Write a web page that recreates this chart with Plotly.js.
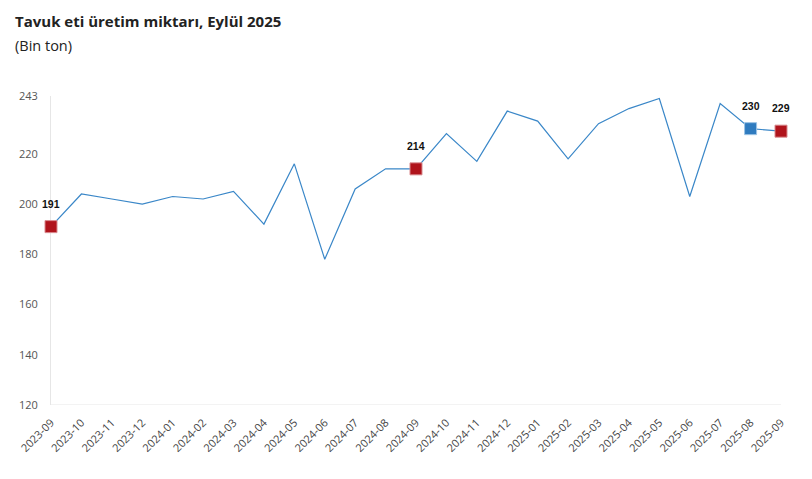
<!DOCTYPE html>
<html>
<head>
<meta charset="utf-8">
<script src="https://cdn.plot.ly/plotly-3.0.1.min.js"></script>
<style>html,body{margin:0;padding:0;background:#fff}#chart{width:812px;height:479px}</style>
</head>
<body>
<div id="chart"></div>
<script>
// Data
const months = ['2023-09','2023-10','2023-11','2023-12','2024-01','2024-02','2024-03','2024-04','2024-05','2024-06','2024-07','2024-08','2024-09','2024-10','2024-11','2024-12','2025-01','2025-02','2025-03','2025-04','2025-05','2025-06','2025-07','2025-08','2025-09'];
const production = [191, 204, 202, 200, 203, 202, 205, 192, 216, 178, 206, 214, 214, 228, 217, 237, 233, 218, 232, 238, 242, 203, 240, 230, 229];
const redMonths = ['2023-09','2024-09','2025-09'];
const blueMonths = ['2025-08'];
const yTicks = [120, 140, 160, 180, 200, 220, 243];
const titleText = 'Tavuk eti üretim miktarı, Eylül 2025';
const subtitleText = '(Bin ton)';

const valueOf = m => production[months.indexOf(m)];

const lineTrace = {
  x: months, y: production, type: 'scatter', mode: 'lines',
  line: {color: '#3a87c8', width: 1.2}, hoverinfo: 'skip', cliponaxis: false
};
const redTrace = {
  x: redMonths, y: redMonths.map(valueOf), type: 'scatter', mode: 'markers',
  marker: {symbol: 'square', size: 12, color: '#b0141c', line: {width: 1, color: '#d88a8e'}},
  cliponaxis: false
};
const blueTrace = {
  x: blueMonths, y: blueMonths.map(valueOf), type: 'scatter', mode: 'markers',
  marker: {symbol: 'square', size: 12, color: '#2f7bbf', line: {width: 1, color: '#9cc3e4'}},
  cliponaxis: false
};

const labelAnn = redMonths.concat(blueMonths).map(m => ({
  x: m, y: valueOf(m), xref: 'x', yref: 'y', text: '<b>' + Math.round(valueOf(m)) + '</b>',
  showarrow: false, yshift: 23,
  font: {family: 'Liberation Sans, Arial, sans-serif', size: 10.5, color: '#111'}
}));

const layout = {
  width: 812, height: 479,
  margin: {l: 51, r: 31, t: 96, b: 74},
  paper_bgcolor: '#fff', plot_bgcolor: '#fff',
  showlegend: false,
  title: {
    text: '<b>' + titleText + '</b>',
    x: 15/812, xref: 'container', xanchor: 'left',
    y: 1 - 22/479, yref: 'container', yanchor: 'middle',
    font: {family: 'Open Sans, sans-serif', size: 15, color: '#222'}
  },
  annotations: [{
    text: subtitleText, xref: 'paper', yref: 'paper',
    x: (13-51)/730, y: 1 + (96-46)/309, xanchor: 'left', yanchor: 'middle',
    showarrow: false,
    font: {family: 'Open Sans, sans-serif', size: 14.5, color: '#222'}
  }].concat(labelAnn),
  xaxis: {
    type: 'category', categoryorder: 'array', categoryarray: months,
    range: [0, months.length - 1],
    tickangle: -45, showgrid: false, zeroline: false,
    showline: false, ticks: 'outside', ticklen: 6, tickcolor: 'rgba(0,0,0,0)',
    tickfont: {family: 'Open Sans, sans-serif', size: 11, color: '#444'}
  },
  yaxis: {
    range: [120, 243], tickvals: yTicks, ticktext: yTicks.map(String),
    showgrid: false, zeroline: false, layer: 'below traces',
    showline: true, linecolor: '#e6e6e6', linewidth: 1,
    ticks: 'outside', ticklen: 10, tickcolor: 'rgba(0,0,0,0)',
    tickfont: {family: 'Open Sans, sans-serif', size: 11, color: '#555'}
  },
  shapes: [{
    type: 'line', xref: 'paper', yref: 'y', x0: 0, x1: 1, y0: 120, y1: 120,
    line: {color: '#e6e6e6', width: 1}, layer: 'below'
  }]
};

Plotly.newPlot('chart', [lineTrace, redTrace, blueTrace], layout, {displayModeBar: false, staticPlot: true});
</script>
</body>
</html>
